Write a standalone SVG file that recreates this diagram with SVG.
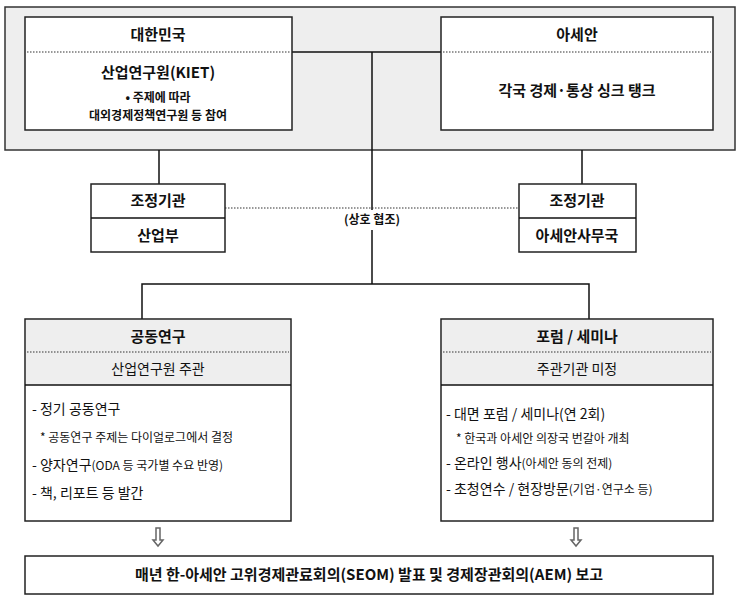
<svg xmlns="http://www.w3.org/2000/svg" width="741" height="600" viewBox="0 0 741 600">
<style>
text{font-family:"Noto Sans CJK KR","Liberation Sans",sans-serif;fill:#111;text-anchor:middle}
.b{font-weight:bold;font-size:15px}
.n{font-size:14px}
.s{font-size:12px}
.l{text-anchor:start}
.box{fill:#fff;stroke:#222;stroke-width:1.5}
.dot{stroke:#333;stroke-width:1.2;stroke-dasharray:1.5 1.5;fill:none}
.ln{stroke:#111;stroke-width:1.5;fill:none}
</style>
<rect x="5" y="7" width="730" height="143" fill="#eee" stroke="#333" stroke-width="1.5"/>
<g id="connectors">
<path class="ln" d="M292 52H441M372 52V284M142 319V284H589V319M159 150V184M582 150V184"/>
<path class="dot" d="M225 208H519"/>
<rect x="338" y="210" width="68" height="20" fill="#fff"/>
<text class="s" x="372" y="224" font-weight="bold">(상호 협조)</text>
<g class="ln" stroke-width="1"><path d="M156 528v12h-3l5 6 5-6h-3v-12z" fill="#fff" stroke="#666"/><path d="M574 528v12h-3l5 6 5-6h-3v-12z" fill="#fff" stroke="#666"/></g>
</g>
<g id="korea">
<rect class="box" x="25" y="17" width="267" height="113"/>
<path class="dot" d="M27 52H290"/>
<text class="b" x="158" y="40">대한민국</text>
<text class="b" x="158" y="78">산업연구원(KIET)</text>
<text class="s" x="158" y="102" font-weight="bold">• 주제에 따라</text>
<text class="s" x="158" y="120" font-weight="bold">대외경제정책연구원 등 참여</text>
</g>
<g id="asean">
<rect class="box" x="441" y="17" width="272" height="113"/>
<path class="dot" d="M443 52H711"/>
<text class="b" x="577" y="40">아세안</text>
<text class="b" x="577" y="96">각국 경제·통상 싱크 탱크</text>
</g>
<g id="coord-kr">
<rect class="box" x="91" y="184" width="134" height="68"/>
<path class="ln" d="M91 218H225"/>
<text class="b" x="158" y="206">조정기관</text>
<text class="b" x="158" y="241">산업부</text>
</g>
<g id="coord-asean">
<rect class="box" x="519" y="184" width="117" height="68"/>
<path class="ln" d="M519 218H636"/>
<text class="b" x="577" y="206">조정기관</text>
<text class="b" x="577" y="241">아세안사무국</text>
</g>
<g id="joint">
<rect class="box" x="25" y="319" width="266" height="202"/>
<rect x="26" y="320" width="264" height="65" fill="#eee"/>
<path class="dot" d="M27 352H289"/>
<path class="ln" d="M25 385H291"/>
<text class="b" x="158" y="342">공동연구</text>
<text class="n" x="158" y="374">산업연구원 주관</text>
<text class="n l" x="32" y="414">- 정기 공동연구</text>
<text class="s l" x="40" y="442">* 공동연구 주제는 다이얼로그에서 결정</text>
<text class="n l" x="32" y="470">- 양자연구<tspan font-size="12">(ODA 등 국가별 수요 반영)</tspan></text>
<text class="n l" x="32" y="498">- 책, 리포트 등 발간</text>
</g>
<g id="forum">
<rect class="box" x="441" y="319" width="272" height="202"/>
<rect x="442" y="320" width="270" height="65" fill="#eee"/>
<path class="dot" d="M443 352H711"/>
<path class="ln" d="M441 385H713"/>
<text class="b" x="577" y="342">포럼 / 세미나</text>
<text class="n" x="577" y="374">주관기관 미정</text>
<text class="n l" x="446" y="419">- 대면 포럼 / 세미나(연 2회)</text>
<text class="s l" x="456" y="443">* 한국과 아세안 의장국 번갈아 개최</text>
<text class="n l" x="446" y="468">- 온라인 행사<tspan font-size="12">(아세안 동의 전제)</tspan></text>
<text class="n l" x="446" y="494">- 초청연수 / 현장방문<tspan font-size="12">(기업·연구소 등)</tspan></text>
</g>
<g id="report">
<rect class="box" x="25" y="556" width="688" height="38"/>
<text class="b" x="369" y="580">매년 한-아세안 고위경제관료회의(SEOM) 발표 및 경제장관회의(AEM) 보고</text>
</g>
</svg>
